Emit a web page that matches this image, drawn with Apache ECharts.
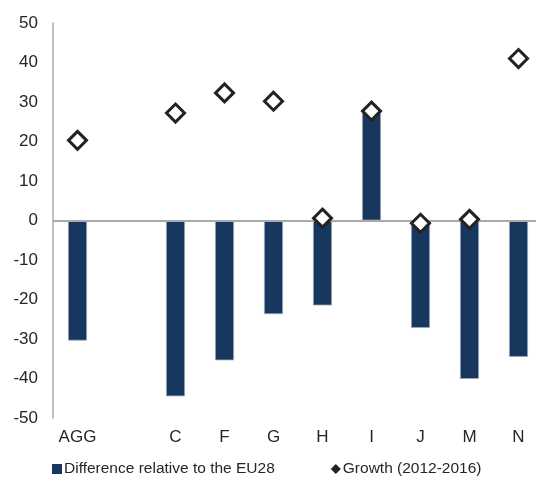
<!DOCTYPE html>
<html>
<head>
<meta charset="utf-8">
<script src="https://cdn.jsdelivr.net/npm/echarts@6/dist/echarts.min.js"></script>
<style>
  html, body { margin: 0; padding: 0; background: #fff; overflow: hidden; }
  /* a bit wider than the window: the last column runs past the right edge, as in the original */
  #main { width: 545px; height: 483px; }
</style>
</head>
<body>
<div id="main"></div>
<script>
// categories (empty slot between AGG and C)
const categories = ['AGG', '', 'C', 'F', 'G', 'H', 'I', 'J', 'M', 'N'];
// Difference relative to the EU28
const diffValues = [-30.4, '-', -44.5, -35.4, -23.7, -21.5, 27.8, -27.2, -40.1, -34.5];
// Growth (2012-2016)
const growthValues = [20.3, '-', 27.2, 32.3, 30.2, 0.6, 27.7, -0.7, 0.3, 41];

const chart = echarts.init(document.getElementById('main'));
const font = 'Liberation Sans, Arial, sans-serif';

chart.setOption({
  animation: false,
  grid: { left: 53, right: 2, top: 23, bottom: 65 },
  legend: {
    left: 47,
    bottom: 1,
    itemGap: 56,
    itemWidth: 10,
    itemHeight: 10,
    textStyle: { fontFamily: font, fontSize: 15.5, color: '#262626', padding: [0, 0, 0, -3] },
    data: [
      { name: 'Difference relative to the EU28', icon: 'rect', itemStyle: { color: '#17375e', borderWidth: 0 } },
      { name: 'Growth (2012-2016)', icon: 'diamond', itemStyle: { color: '#222', borderWidth: 0 } }
    ]
  },
  xAxis: {
    type: 'category',
    data: categories,
    position: 'bottom',
    axisLine: { show: false },
    axisTick: { show: false },
    axisLabel: { fontFamily: font, fontSize: 17, color: '#262626', margin: 11, interval: 0 }
  },
  yAxis: {
    type: 'value',
    min: -50,
    max: 50,
    interval: 10,
    splitLine: { show: false },
    axisLine: { show: true, lineStyle: { color: '#aaa', width: 1.5 } },
    axisTick: { show: false },
    axisLabel: { fontFamily: font, fontSize: 17, color: '#262626', margin: 15 }
  },
  series: [
    {
      name: 'Difference relative to the EU28',
      type: 'bar',
      data: diffValues,
      barWidth: 19,
      itemStyle: { color: '#17375e', borderColor: '#9aaabd', borderWidth: 0.8 },
      markLine: {
        silent: true,
        symbol: 'none',
        label: { show: false },
        lineStyle: { color: '#aaa', width: 2, type: 'solid' },
        data: [{ yAxis: 0 }]
      }
    },
    {
      name: 'Growth (2012-2016)',
      type: 'scatter',
      data: growthValues,
      symbol: 'diamond',
      symbolSize: 18,
      z: 5,
      itemStyle: { color: '#fff', borderColor: '#222', borderWidth: 3, opacity: 1 }
    }
  ]
});
</script>
</body>
</html>
